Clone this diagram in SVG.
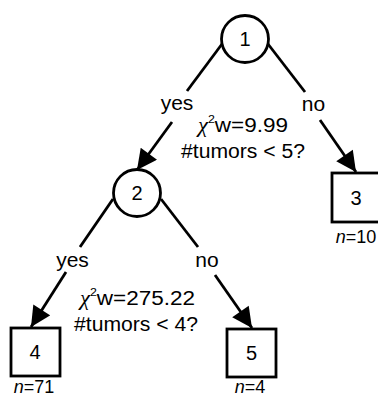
<svg xmlns="http://www.w3.org/2000/svg" width="378" height="397" viewBox="0 0 378 397">
<defs>
<marker id="ah" viewBox="0 0 10 10" refX="10" refY="5" markerWidth="7.6" markerHeight="7.2" markerUnits="strokeWidth" orient="auto">
<path d="M0,0 L10,5 L0,10 Z" fill="#000"/>
</marker>
<style>
.n{fill:#fff;stroke:#000;stroke-width:2.8}
.t{font-family:"Liberation Sans",Arial,sans-serif;fill:#000}
.lbl{font-size:21px;text-anchor:middle}
.num{font-size:20px;text-anchor:middle}
.cnt{font-size:18px;text-anchor:middle}
.cond{font-size:20px}
.e{stroke:#000;stroke-width:2.8;fill:none}
.chi{font-family:"Liberation Serif",serif;font-style:italic}
</style>
</defs>
<rect width="378" height="397" fill="#fff"/>
<g id="connectors">
<line class="e" x1="222" y1="44" x2="187" y2="91"/>
<line class="e" x1="172" y1="122" x2="137" y2="170" marker-end="url(#ah)"/>
<line class="e" x1="268" y1="44" x2="305" y2="92"/>
<line class="e" x1="320" y1="120" x2="356" y2="172" marker-end="url(#ah)"/>
<line class="e" x1="113" y1="199" x2="80" y2="247"/>
<line class="e" x1="66" y1="272" x2="31" y2="327" marker-end="url(#ah)"/>
<line class="e" x1="161" y1="199" x2="198" y2="247"/>
<line class="e" x1="215" y1="275" x2="252" y2="328" marker-end="url(#ah)"/>
</g>
<g id="edge-labels" class="t">
<text class="lbl" x="177" y="110">yes</text>
<text class="lbl" x="313.5" y="111">no</text>
<text class="lbl" x="72.5" y="267">yes</text>
<text class="lbl" x="207" y="267">no</text>
</g>
<g id="node1">
<circle class="n" cx="245" cy="39" r="23.5"/>
<text class="t num" x="245" y="46">1</text>
<text class="t cond" x="198" y="132" textLength="90" lengthAdjust="spacingAndGlyphs"><tspan class="chi">χ</tspan><tspan font-size="11" dy="-9">2</tspan><tspan dy="9">w=9.99</tspan></text>
<text class="t cond" x="181" y="158" textLength="124" lengthAdjust="spacingAndGlyphs">#tumors &lt; 5?</text>
</g>
<g id="node2">
<circle class="n" cx="137" cy="193" r="23.5"/>
<text class="t num" x="137" y="200">2</text>
<text class="t cond" x="80" y="305" textLength="115" lengthAdjust="spacingAndGlyphs"><tspan class="chi">χ</tspan><tspan font-size="11" dy="-9">2</tspan><tspan dy="9">w=275.22</tspan></text>
<text class="t cond" x="74" y="331" textLength="124" lengthAdjust="spacingAndGlyphs">#tumors &lt; 4?</text>
</g>
<g id="node3">
<rect class="n" x="332" y="173" width="49" height="49"/>
<text class="t num" x="356" y="205">3</text>
<text class="t cnt" x="356" y="243"><tspan font-style="italic">n</tspan>=10</text>
</g>
<g id="node4">
<rect class="n" x="11" y="328" width="49" height="48"/>
<text class="t num" x="35" y="359">4</text>
<text class="t cnt" x="34" y="393"><tspan font-style="italic">n</tspan>=71</text>
</g>
<g id="node5">
<rect class="n" x="227" y="329" width="49" height="48"/>
<text class="t num" x="251.5" y="360">5</text>
<text class="t cnt" x="250" y="393"><tspan font-style="italic">n</tspan>=4</text>
</g>
</svg>
